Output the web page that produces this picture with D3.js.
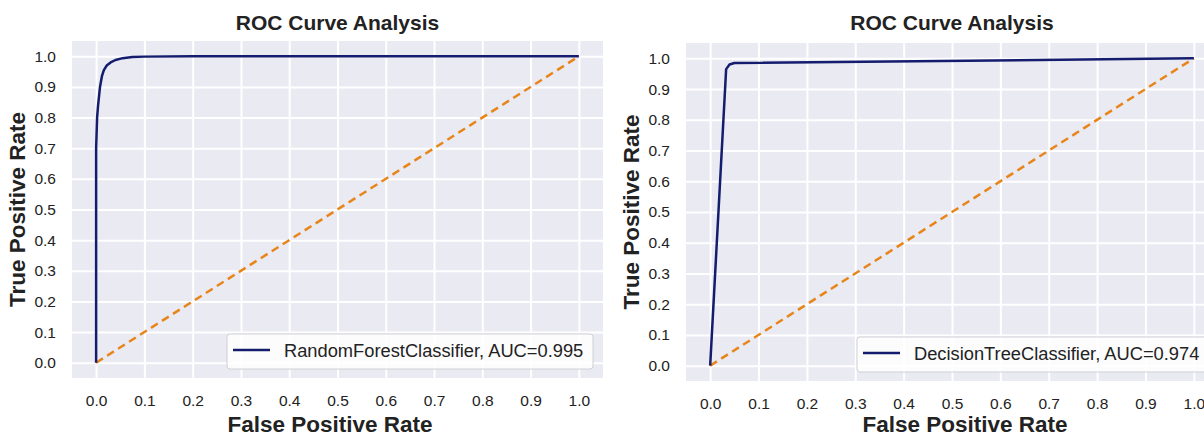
<!DOCTYPE html>
<html>
<head>
<meta charset="utf-8">
<script src="https://cdn.jsdelivr.net/npm/d3@7"></script>
<style>
  body { margin: 0; background: #fff; }
  svg { display: block; font-family: "Liberation Sans", Arial, sans-serif; }
</style>
</head>
<body>
<svg id="chart" width="1204" height="444"></svg>
<script>
// tick values shared by both panels
const ticks = [0, 0.1, 0.2, 0.3, 0.4, 0.5, 0.6, 0.7, 0.8, 0.9, 1.0];

// Random forest ROC curve
const rfFpr = [0, 0, 0.002, 0.004, 0.006, 0.008, 0.012, 0.016, 0.022, 0.03, 0.04, 0.055, 0.075, 0.1, 0.2, 0.5, 1.0];
const rfTpr = [0, 0.70, 0.80, 0.84, 0.87, 0.90, 0.935, 0.955, 0.97, 0.98, 0.988, 0.994, 0.998, 0.999, 1.0, 1.0, 1.0];

// Decision tree ROC curve
const dtFpr = [0, 0.033, 0.04, 0.05, 1.0];
const dtTpr = [0, 0.965, 0.98, 0.985, 1.0];

// chance line
const diagX = [0, 1];
const diagY = [0, 1];

const labels = ["RandomForestClassifier, AUC=0.995", "DecisionTreeClassifier, AUC=0.974"];

const svg = d3.select("#chart");

function drawPanel(cfg) {
  const { left, right, top, bottom, fpr, tpr, label, legend } = cfg;

  const x = d3.scaleLinear().domain([-0.05, 1.05]).range([left, right]);
  const y = d3.scaleLinear().domain([-0.05, 1.05]).range([bottom, top]);

  const g = svg.append("g");

  g.append("rect")
    .attr("x", left).attr("y", top)
    .attr("width", right - left).attr("height", bottom - top)
    .attr("fill", "#eaeaf2");

  // grid
  g.append("g")
    .attr("transform", `translate(0,${bottom})`)
    .call(d3.axisBottom(x).tickValues(ticks).tickSize(-(bottom - top)).tickFormat(""))
    .call(a => a.select(".domain").remove())
    .selectAll("line").attr("stroke", "#fff").attr("stroke-width", 2);

  g.append("g")
    .attr("transform", `translate(${left},0)`)
    .call(d3.axisLeft(y).tickValues(ticks).tickSize(-(right - left)).tickFormat(""))
    .call(a => a.select(".domain").remove())
    .selectAll("line").attr("stroke", "#fff").attr("stroke-width", 2);

  // tick labels
  g.append("g")
    .attr("transform", `translate(0,${bottom})`)
    .call(d3.axisBottom(x).tickValues(ticks).tickSize(0).tickPadding(17).tickFormat(d3.format(".1f")))
    .call(a => a.select(".domain").remove())
    .selectAll("text")
    .attr("font-size", 15.5).attr("fill", "#222")
    .attr("font-family", "Liberation Sans, Arial, sans-serif");

  g.append("g")
    .attr("transform", `translate(${left},0)`)
    .call(d3.axisLeft(y).tickValues(ticks).tickSize(0).tickPadding(16).tickFormat(d3.format(".1f")))
    .call(a => a.select(".domain").remove())
    .selectAll("text")
    .attr("font-size", 15.5).attr("fill", "#222")
    .attr("font-family", "Liberation Sans, Arial, sans-serif");

  const line = d3.line().x(d => x(d[0])).y(d => y(d[1]));

  g.append("path")
    .datum(diagX.map((v, i) => [v, diagY[i]]))
    .attr("d", line)
    .attr("fill", "none")
    .attr("stroke", "#e8851a")
    .attr("stroke-width", 2.5)
    .attr("stroke-dasharray", "8,5");

  g.append("path")
    .datum(fpr.map((v, i) => [v, tpr[i]]))
    .attr("d", line)
    .attr("fill", "none")
    .attr("stroke", "#141c6e")
    .attr("stroke-width", 2.5)
    .attr("stroke-linejoin", "round");

  // legend
  const lg = g.append("g");
  lg.append("rect")
    .attr("x", legend.x).attr("y", legend.y)
    .attr("width", legend.w).attr("height", 35)
    .attr("rx", 3)
    .attr("fill", "#fff").attr("fill-opacity", 0.85)
    .attr("stroke", "#cfcfd6").attr("stroke-width", 1);
  lg.append("line")
    .attr("x1", legend.x + 6).attr("x2", legend.x + 43)
    .attr("y1", legend.y + 16).attr("y2", legend.y + 16)
    .attr("stroke", "#141c6e").attr("stroke-width", 2.5);
  lg.append("text")
    .attr("x", legend.x + 57).attr("y", legend.y + 23)
    .attr("font-size", 18.3).attr("fill", "#222")
    .text(label);

  // titles
  const cx = (left + right) / 2;
  g.append("text")
    .attr("x", cx).attr("y", 30)
    .attr("text-anchor", "middle")
    .attr("font-size", 21).attr("font-weight", "bold").attr("fill", "#222")
    .text("ROC Curve Analysis");

  g.append("text")
    .attr("x", cfg.xLabelX).attr("y", 432)
    .attr("text-anchor", "middle")
    .attr("font-size", 22.5).attr("font-weight", "bold").attr("fill", "#222")
    .text("False Positive Rate");

  g.append("text")
    .attr("transform", `translate(${cfg.yLabelX},${(top + bottom) / 2}) rotate(-90)`)
    .attr("text-anchor", "middle")
    .attr("font-size", 22.5).attr("font-weight", "bold").attr("fill", "#222")
    .text("True Positive Rate");
}

drawPanel({
  left: 72, right: 603, top: 41, bottom: 378,
  fpr: rfFpr, tpr: rfTpr, label: labels[0],
  legend: { x: 227, y: 334, w: 366 },
  xLabelX: 330, yLabelX: 25
});

drawPanel({
  left: 686, right: 1218, top: 43, bottom: 381,
  fpr: dtFpr, tpr: dtTpr, label: labels[1],
  legend: { x: 857, y: 337, w: 352 },
  xLabelX: 965, yLabelX: 639
});
</script>
</body>
</html>
